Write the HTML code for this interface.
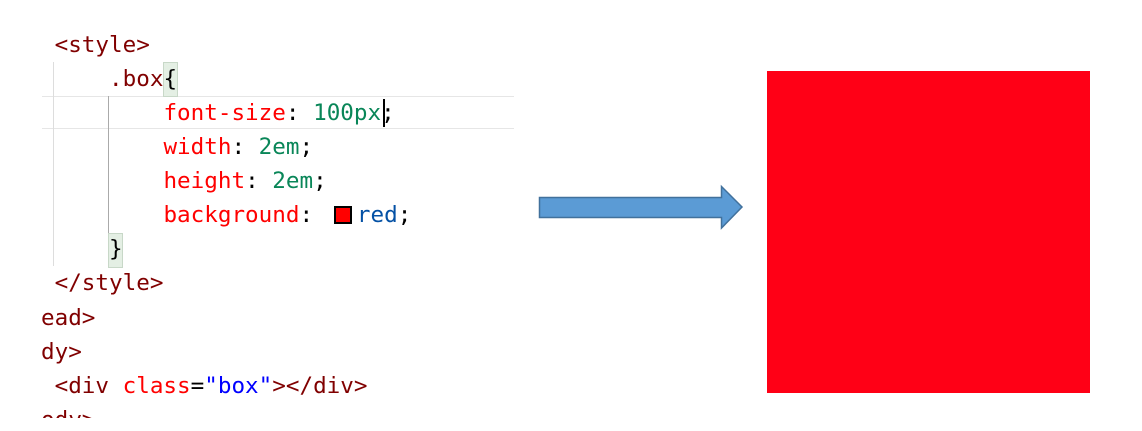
<!DOCTYPE html>
<html><head><style>
body{margin:0;width:1142px;height:431px;background:#fff;position:relative;overflow:hidden}
.l{position:absolute;font-family:"DejaVu Sans Mono","Liberation Mono",monospace;font-size:22.6px;white-space:pre;line-height:34px;height:34px}
.t{color:#800000}.p{color:#f00}.v{color:#098658}.k{color:#000}.b{color:#0451a5}.s{color:#00f}
.a{position:absolute}
</style></head><body>
<div class="a" style="left:42px;top:96px;width:472px;height:1px;background:#e6e6e6"></div>
<div class="a" style="left:42px;top:128px;width:472px;height:1px;background:#e6e6e6"></div>
<div class="a" style="left:53px;top:62px;width:1px;height:204px;background:#ddd"></div>
<div class="a" style="left:108px;top:96px;width:1px;height:144px;background:#aaa"></div>
<div class="a" style="left:163px;top:62px;width:13px;height:33px;background:#e4efe4;border:1px solid #c8d8c8"></div>
<div class="a" style="left:108px;top:233px;width:13px;height:33px;background:#e4efe4;border:1px solid #c8d8c8"></div>
<div class="a" style="left:334px;top:206px;width:14px;height:14px;background:#f00;border:2px solid #000"></div>
<div class="a" style="left:383px;top:99px;width:2px;height:28px;background:#000"></div>
<div class="l t" style="left:41px;top:28px"> &lt;style&gt;</div>
<div class="l" style="left:41px;top:62px">     <span class="t">.box</span><span class="k">{</span></div>
<div class="l" style="left:41px;top:96px">         <span class="p">font-size</span><span class="k">: </span><span class="v">100px</span><span class="k">;</span></div>
<div class="l" style="left:41px;top:130px">         <span class="p">width</span><span class="k">: </span><span class="v">2em</span><span class="k">;</span></div>
<div class="l" style="left:41px;top:164px">         <span class="p">height</span><span class="k">: </span><span class="v">2em</span><span class="k">;</span></div>
<div class="l" style="left:41px;top:198px">         <span class="p">background</span><span class="k">:   </span><span class="b" style="margin-left:3px">red</span><span class="k">;</span></div>
<div class="l k" style="left:41px;top:232px">     }</div>
<div class="l t" style="left:41px;top:266px"> &lt;/style&gt;</div>
<div class="l t" style="left:41px;top:301px">ead&gt;</div>
<div class="l t" style="left:41px;top:335px">dy&gt;</div>
<div class="l" style="left:41px;top:369px"><span class="t"> &lt;div </span><span class="p">class</span><span class="k">=</span><span class="s">"box"</span><span class="t">&gt;&lt;/div&gt;</span></div>
<div class="l t" style="left:41px;top:403px;height:15px;overflow:hidden">ody&gt;</div>
<svg class="a" style="left:0;top:0" width="1142" height="431">
<polygon points="539.5,197.5 721.5,197.5 721.5,186.5 742,207 721.5,228 721.5,217.5 539.5,217.5" fill="#5b9bd5" stroke="#41719c" stroke-width="1.5"/>
</svg>
<div class="a" style="left:767px;top:71px;width:323px;height:322px;background:#ff0016"></div>
</body></html>
